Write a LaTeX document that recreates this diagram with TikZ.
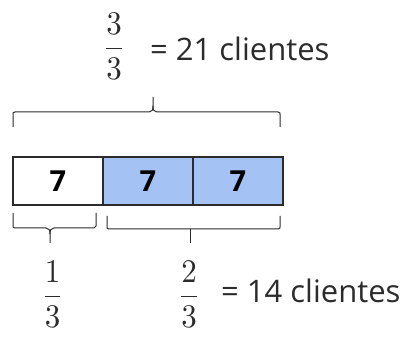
\documentclass[tikz,border=0pt]{standalone}
\usepackage{fontspec}
\setmainfont{Open Sans}
\usetikzlibrary{positioning}
\definecolor{cellblue}{HTML}{A4C2F4}
\definecolor{ink}{HTML}{2B2B2B}
\tikzset{
  cell/.style={draw=ink, line width=1.2pt, minimum width=90pt, minimum height=48pt, inner sep=0pt,
    font=\fontsize{29}{32}\selectfont\bfseries, text=black},
  frac/.style={inner sep=0pt, anchor=base, text=ink},
  lbl/.style={inner sep=0pt, anchor=base west, text=ink, font=\fontsize{31}{36}\selectfont},
  bracepath/.style={draw=ink, line width=1pt}
}
\newcommand{\myfrac}[2]{\scalebox{3.1}[3.3]{$\displaystyle\frac{#1}{#2}$}}
\begin{document}
\begin{tikzpicture}[x=1pt,y=-1pt]
\useasboundingbox (0,0) rectangle (408,337);
% cells
\node[cell] (c1) at (58,181) {7};
\node[cell, fill=cellblue] (c2) at (148,181) {7};
\node[cell, fill=cellblue] (c3) at (238,181) {7};
% top fraction and label
\node[frac] (ftop) at (114,57) {\myfrac{3}{3}};
\node[lbl] (ltop) at (150,61) {= 21 clientes};
% bottom fractions and label
\node[frac] (f1) at (52.5,305) {\myfrac{1}{3}};
\node[frac] (f2) at (189,305) {\myfrac{2}{3}};
\node[lbl] (lbot) at (221,303) {= 14 clientes};
% top brace
\draw[bracepath] (13,127) -- (13,114) .. controls (13,112.5) .. (15,112) -- (149,112)
  .. controls (152,112) and (153,110) .. (153,106) -- (153,97);
\draw[bracepath] (153,106) .. controls (153,110) and (154,112) .. (157,112) -- (278,112)
  .. controls (280,112.5) .. (280,114) -- (280,127);
% bottom left brace
\draw[bracepath] (13,213) -- (13,226) .. controls (13,227.5) .. (15,228) -- (46,228)
  .. controls (49,228) and (50,230) .. (50,234) -- (50,243);
\draw[bracepath] (50,234) .. controls (50,230) and (51,228) .. (54,228) -- (94,228)
  .. controls (95.5,227.5) .. (96,226) -- (96,213);
% bottom right brace
\draw[bracepath] (107,216) -- (107,227) .. controls (107,228.5) .. (109,229) -- (278,229)
  .. controls (280,228.5) .. (280,227) -- (280,216);
\draw[bracepath] (190,229) -- (190,243);
\end{tikzpicture}
\end{document}
